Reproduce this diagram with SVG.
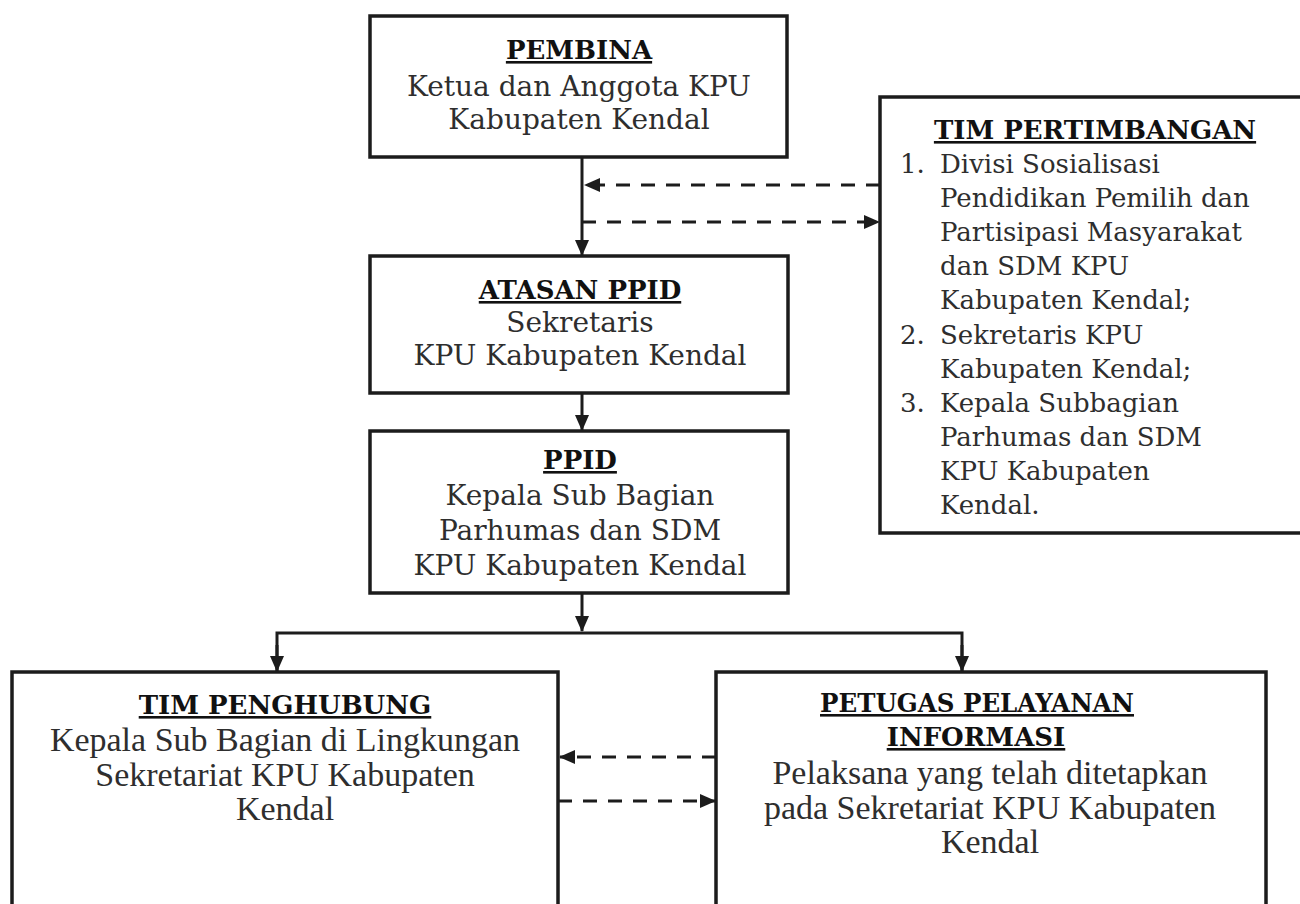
<svg xmlns="http://www.w3.org/2000/svg" width="1300" height="904" viewBox="0 0 1300 904">
<style>
.box{fill:#fff;stroke:#1c1c1c;stroke-width:3.5}
.t{font-family:"DejaVu Serif","Liberation Serif",serif;font-size:28px;fill:#2e2e2e;text-anchor:middle}
.r{font-size:26px}
.h{font-family:"DejaVu Serif","Liberation Serif",serif;font-size:26px;font-weight:bold;fill:#111;text-anchor:middle;text-decoration:underline}
.l{text-anchor:start}
.c{font-family:"Liberation Serif",serif;font-size:34px}
.ln{fill:none;stroke:#1c1c1c;stroke-width:3}
.ds{fill:none;stroke:#1c1c1c;stroke-width:3;stroke-dasharray:14,11}
</style>
<defs>
<marker id="ab" markerWidth="16" markerHeight="16" refX="15" refY="8" orient="auto" markerUnits="userSpaceOnUse" viewBox="0 0 16 16">
<path d="M0,1 L16,8 L0,15 z" fill="#1c1c1c"/>
</marker>
</defs>
<rect width="1300" height="904" fill="#fff"/>
<g id="connectors">
<line class="ln" x1="582" y1="157" x2="582" y2="255" marker-end="url(#ab)"/>
<line class="ds" x1="880" y1="185" x2="585" y2="185" marker-end="url(#ab)"/>
<line class="ds" x1="582" y1="222" x2="879" y2="222" marker-end="url(#ab)"/>
<line class="ln" x1="582" y1="393" x2="582" y2="430" marker-end="url(#ab)"/>
<line class="ln" x1="582" y1="593" x2="582" y2="631" marker-end="url(#ab)"/>
<polyline class="ln" points="277,671 277,633 962,633 962,671"/>
<line class="ln" x1="277" y1="645" x2="277" y2="671" marker-end="url(#ab)"/>
<line class="ln" x1="962" y1="645" x2="962" y2="671" marker-end="url(#ab)"/>
<line class="ds" x1="716" y1="757" x2="560" y2="757" marker-end="url(#ab)"/>
<line class="ds" x1="558" y1="801" x2="715" y2="801" marker-end="url(#ab)"/>
</g>
<g id="pembina">
<rect class="box" x="370" y="16" width="417" height="141"/>
<text class="h" x="579" y="59">PEMBINA</text>
<text class="t" x="579" y="96">Ketua dan Anggota KPU</text>
<text class="t" x="579" y="129">Kabupaten Kendal</text>
</g>
<g id="tim-pertimbangan">
<rect class="box" x="880" y="97" width="440" height="436"/>
<text class="h" x="1095" y="139">TIM PERTIMBANGAN</text>
<text class="t r l" x="900" y="173">1.</text>
<text class="t r l" x="940" y="173">Divisi Sosialisasi</text>
<text class="t r l" x="940" y="207">Pendidikan Pemilih dan</text>
<text class="t r l" x="940" y="241">Partisipasi Masyarakat</text>
<text class="t r l" x="940" y="275">dan SDM KPU</text>
<text class="t r l" x="940" y="309">Kabupaten Kendal;</text>
<text class="t r l" x="900" y="344">2.</text>
<text class="t r l" x="940" y="344">Sekretaris KPU</text>
<text class="t r l" x="940" y="378">Kabupaten Kendal;</text>
<text class="t r l" x="900" y="412">3.</text>
<text class="t r l" x="940" y="412">Kepala Subbagian</text>
<text class="t r l" x="940" y="446">Parhumas dan SDM</text>
<text class="t r l" x="940" y="480">KPU Kabupaten</text>
<text class="t r l" x="940" y="514">Kendal.</text>
</g>
<g id="atasan-ppid">
<rect class="box" x="370" y="256" width="418" height="137"/>
<text class="h" x="580" y="299">ATASAN PPID</text>
<text class="t" x="580" y="332">Sekretaris</text>
<text class="t" x="580" y="365">KPU Kabupaten Kendal</text>
</g>
<g id="ppid">
<rect class="box" x="370" y="431" width="418" height="162"/>
<text class="h" x="580" y="469">PPID</text>
<text class="t" x="580" y="505">Kepala Sub Bagian</text>
<text class="t" x="580" y="540">Parhumas dan SDM</text>
<text class="t" x="580" y="575">KPU Kabupaten Kendal</text>
</g>
<g id="tim-penghubung">
<rect class="box" x="12" y="672" width="546" height="250"/>
<text class="h" x="285" y="714">TIM PENGHUBUNG</text>
<text class="t c" x="285" y="751">Kepala Sub Bagian di Lingkungan</text>
<text class="t c" x="285" y="786">Sekretariat KPU Kabupaten</text>
<text class="t c" x="285" y="820">Kendal</text>
</g>
<g id="petugas">
<rect class="box" x="716" y="672" width="550" height="250"/>
<text class="h" x="977" y="712" textLength="314" lengthAdjust="spacingAndGlyphs">PETUGAS PELAYANAN</text>
<text class="h" x="976" y="746">INFORMASI</text>
<text class="t c" x="990" y="784">Pelaksana yang telah ditetapkan</text>
<text class="t c" x="990" y="819">pada Sekretariat KPU Kabupaten</text>
<text class="t c" x="990" y="853">Kendal</text>
</g>
</svg>
